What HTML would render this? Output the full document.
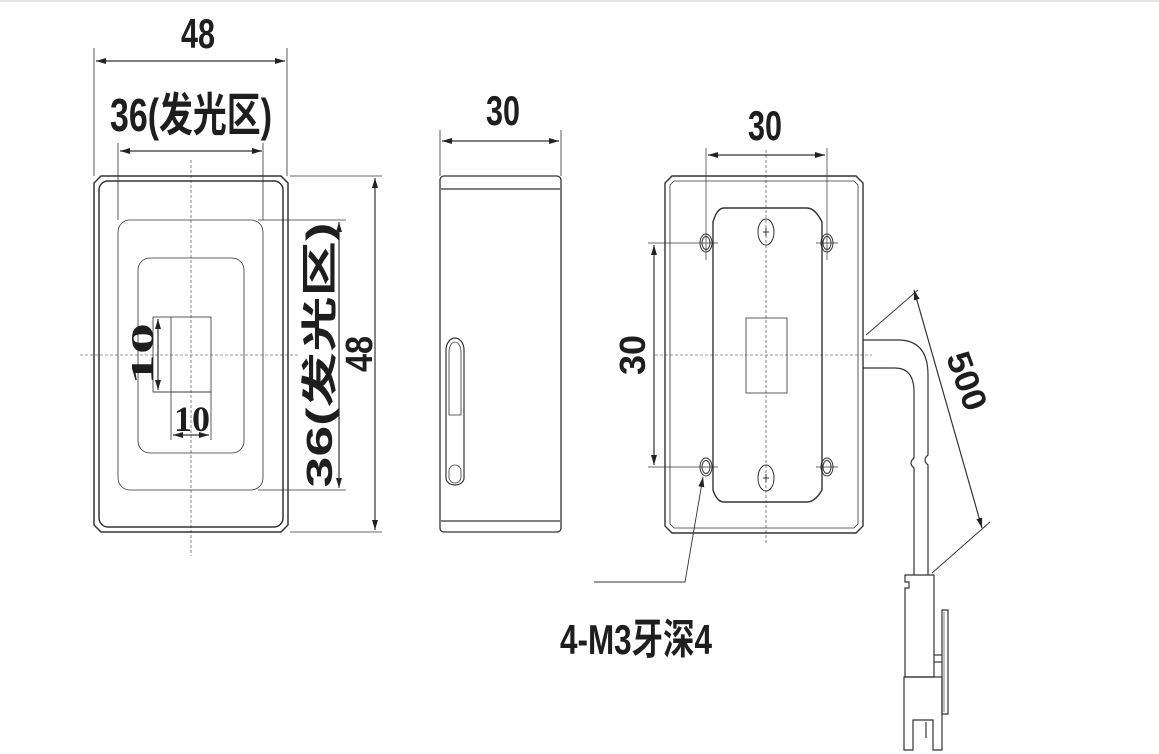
<!DOCTYPE html>
<html><head><meta charset="utf-8"><style>
html,body{margin:0;padding:0;background:#fff;}
svg{display:block}
text{font-family:"Liberation Sans","Noto Sans CJK SC",sans-serif;font-weight:bold;fill:#1e1e1e}
text.s{font-family:"Liberation Serif","Noto Serif CJK SC",serif}
</style></head><body>
<svg width="1159" height="754" viewBox="0 0 1159 754" xmlns="http://www.w3.org/2000/svg">
<defs>
<marker id="a" viewBox="0 0 10 6" refX="10" refY="3" markerWidth="10" markerHeight="6" orient="auto-start-reverse" markerUnits="userSpaceOnUse"><path d="M0,0 L10,3 L0,6 z" fill="#222"/></marker>
</defs>
<line x1="0" y1="1" x2="1159" y2="1" stroke="#e6e6e6" stroke-width="2"/>
<g fill="none" stroke="#333" stroke-width="1.2">
<!-- LEFT VIEW -->
<path d="M101,176 H281 L288,183 V525 L281,532 H101 L94,525 V183 Z" stroke-width="1.5"/>
<rect x="99" y="181" width="184" height="346" rx="9" stroke-width="1.5"/>
<rect x="118" y="220" width="145" height="270" rx="12" stroke-width="0.8"/>
<rect x="138" y="258" width="106" height="195" rx="12" stroke-width="0.8"/>
<rect x="153" y="317" width="58" height="75" stroke-width="0.8"/>
<line x1="171" y1="317" x2="171" y2="440" stroke-width="0.8"/>
<line x1="211" y1="392" x2="211" y2="440" stroke-width="0.8"/>
<line x1="191" y1="160" x2="191" y2="556" stroke-dasharray="3,2" stroke-width="0.6"/>
<line x1="80" y1="355" x2="300" y2="355" stroke-dasharray="3,2" stroke-width="0.6"/>
<line x1="94" y1="48" x2="94" y2="176" stroke-width="0.8"/>
<line x1="287" y1="48" x2="287" y2="176" stroke-width="0.8"/>
<line x1="96" y1="61" x2="285" y2="61" marker-start="url(#a)" marker-end="url(#a)"/>
<line x1="118" y1="143" x2="118" y2="220" stroke-width="0.8"/>
<line x1="263" y1="143" x2="263" y2="220" stroke-width="0.8"/>
<line x1="120" y1="151" x2="262" y2="151" marker-start="url(#a)" marker-end="url(#a)"/>
<line x1="290" y1="176" x2="382" y2="176" stroke-width="0.8"/>
<line x1="290" y1="532" x2="382" y2="532" stroke-width="0.8"/>
<line x1="375" y1="178" x2="375" y2="530" marker-start="url(#a)" marker-end="url(#a)"/>
<line x1="258" y1="220" x2="346" y2="220" stroke-width="0.8"/>
<line x1="258" y1="490" x2="346" y2="490" stroke-width="0.8"/>
<line x1="339" y1="222" x2="339" y2="488" marker-start="url(#a)" marker-end="url(#a)"/>
<line x1="153" y1="392" x2="211" y2="392" stroke-width="0.8"/>
<line x1="158" y1="319" x2="158" y2="390" marker-start="url(#a)" marker-end="url(#a)"/>
<line x1="173" y1="435" x2="209" y2="435" marker-start="url(#a)" marker-end="url(#a)"/>

<!-- MIDDLE VIEW -->
<rect x="440" y="176" width="121" height="356" rx="4" stroke-width="1.3"/>
<line x1="441" y1="189" x2="560" y2="189"/>
<line x1="441" y1="521" x2="560" y2="521"/>
<path d="M446,350 A9,12 0 0 1 464,350 V478 A9,7 0 0 1 446,478 Z"/>
<path d="M449,352 A6,10 0 0 1 461,352 V415 H449 Z" stroke-width="0.8"/>
<rect x="449" y="465" width="12" height="18" rx="6" stroke-width="0.8"/>
<line x1="440" y1="130" x2="440" y2="176" stroke-width="0.8"/>
<line x1="561" y1="130" x2="561" y2="176" stroke-width="0.8"/>
<line x1="442" y1="141" x2="559" y2="141" marker-start="url(#a)" marker-end="url(#a)"/>

<!-- RIGHT VIEW -->
<path d="M672,176 H856 L863,183 V526 L856,533 H672 L665,526 V183 Z" stroke-width="1.4"/>
<path d="M674,181 H854 L858,185 V524 L854,528 H674 L670,524 V185 Z" stroke-width="0.8"/>
<path d="M724,208 H807 Q815,208 822,222 V490 Q815,502 807,502 H724 Q717,502 713,490 V222 Q717,208 724,208 Z" stroke-width="1.4"/>
<rect x="746" y="318" width="41" height="75" stroke-width="0.8"/>
<g stroke-width="1">
<ellipse cx="706" cy="243" rx="6" ry="9"/><ellipse cx="706" cy="243" rx="4" ry="6.5"/>
<ellipse cx="827" cy="243" rx="6" ry="9"/><ellipse cx="827" cy="243" rx="4" ry="6.5"/>
<ellipse cx="706" cy="467" rx="6" ry="9"/><ellipse cx="706" cy="467" rx="4" ry="6.5"/>
<ellipse cx="827" cy="467" rx="6" ry="9"/><ellipse cx="827" cy="467" rx="4" ry="6.5"/>
<ellipse cx="766" cy="232" rx="8" ry="13"/><ellipse cx="766" cy="478" rx="8" ry="13"/>
<path d="M763,232 h6 M766,228 v8 M763,478 h6 M766,474 v8"/>
</g>
<line x1="766" y1="150" x2="766" y2="545" stroke-dasharray="3,2" stroke-width="0.6"/>
<line x1="655" y1="355" x2="872" y2="355" stroke-dasharray="3,2" stroke-width="0.6"/>
<line x1="706" y1="148" x2="706" y2="260" stroke-width="0.7"/>
<line x1="827" y1="148" x2="827" y2="260" stroke-width="0.7"/>
<line x1="708" y1="155" x2="825" y2="155" marker-start="url(#a)" marker-end="url(#a)"/>
<line x1="648" y1="243" x2="718" y2="243" stroke-width="0.7"/>
<line x1="648" y1="467" x2="718" y2="467" stroke-width="0.7"/>
<line x1="654" y1="245" x2="654" y2="465" marker-start="url(#a)" marker-end="url(#a)"/>
<line x1="816" y1="243" x2="838" y2="243" stroke-width="0.7"/>
<line x1="816" y1="467" x2="838" y2="467" stroke-width="0.7"/>
<!-- cable -->
<path d="M863,340 H898 Q928,340 928,375 V455 Q922,460 928,465 V575"/>
<path d="M863,368 H895 Q914,368 914,392 V458 Q908,463 914,468 V575"/>
<!-- connector -->
<path d="M905,575 H934 V677 H905 V588 H909 V582 H905 Z"/>
<path d="M904,677 H942 V750 H933 V720 H913 V750 H904 Z"/>
<line x1="926" y1="722" x2="926" y2="738"/>
<line x1="934" y1="662" x2="942" y2="662"/>
<line x1="934" y1="655" x2="942" y2="655"/>
<path d="M942,610 L948,610 V714 H942 Z"/>
<path d="M944,612 V712" stroke-width="0.6"/>
<!-- 500 dim -->
<line x1="866" y1="335" x2="918" y2="290" stroke-width="0.9"/>
<line x1="932" y1="573" x2="990" y2="522" stroke-width="0.9"/>
<line x1="914" y1="290" x2="982" y2="528" marker-start="url(#a)" marker-end="url(#a)"/>
<!-- leader -->
<path d="M594,582 H685 L703,477" stroke-width="0.9" marker-end="url(#a)"/>
</g>
<text x="198" y="48" font-size="42" text-anchor="middle" textLength="34" lengthAdjust="spacingAndGlyphs">48</text>
<text x="191" y="131" font-size="46" text-anchor="middle" textLength="162" lengthAdjust="spacingAndGlyphs">36(发光区)</text>
<text transform="translate(372,354) rotate(-90)" font-size="38" text-anchor="middle" textLength="36" lengthAdjust="spacingAndGlyphs">48</text>
<text transform="translate(332,355) rotate(-90)" font-size="36" text-anchor="middle" textLength="265" lengthAdjust="spacingAndGlyphs">36(发光区)</text>
<text class="s" transform="translate(153,354) rotate(-90)" font-size="32" text-anchor="middle" textLength="62" lengthAdjust="spacingAndGlyphs">10</text>
<text class="s" x="192" y="431" font-size="36" text-anchor="middle" textLength="36" lengthAdjust="spacingAndGlyphs">10</text>
<text x="503" y="125" font-size="42" text-anchor="middle" textLength="34" lengthAdjust="spacingAndGlyphs">30</text>
<text x="765" y="140" font-size="42" text-anchor="middle" textLength="34" lengthAdjust="spacingAndGlyphs">30</text>
<text transform="translate(645,355) rotate(-90)" font-size="36" text-anchor="middle" textLength="40" lengthAdjust="spacingAndGlyphs">30</text>
<text transform="translate(956,385) rotate(70)" font-size="34" text-anchor="middle" textLength="60" lengthAdjust="spacingAndGlyphs">500</text>
<text x="636" y="654" font-size="42" text-anchor="middle" textLength="152" lengthAdjust="spacingAndGlyphs">4-M3牙深4</text>
</svg>
</body></html>
